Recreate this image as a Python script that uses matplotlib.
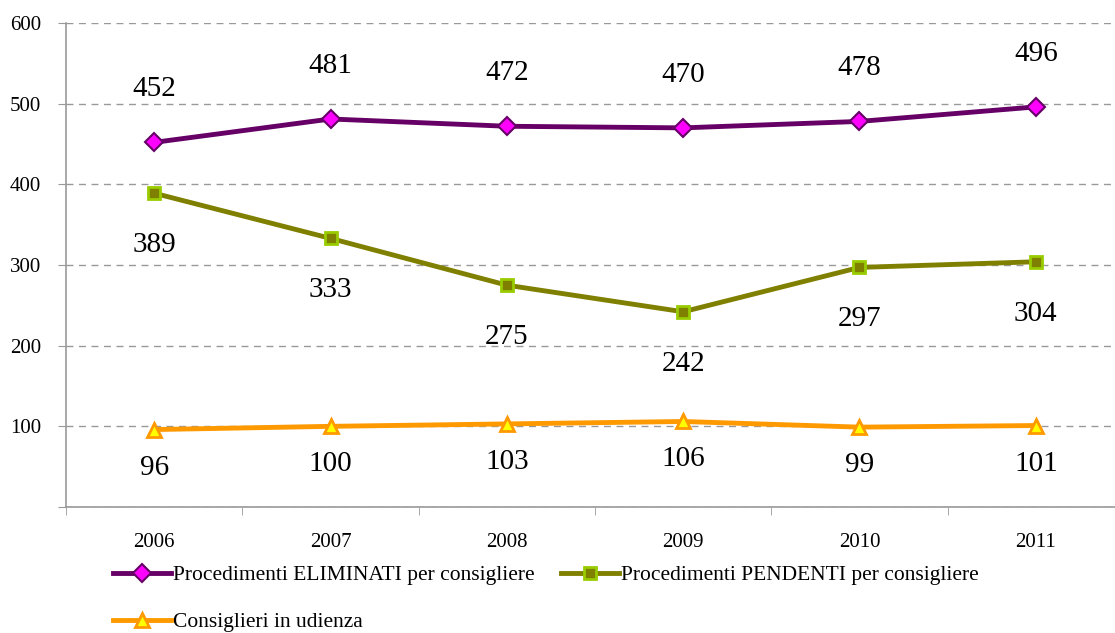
import matplotlib
matplotlib.use("Agg")
import matplotlib.pyplot as plt
from matplotlib.ticker import FixedLocator

years = ["2006", "2007", "2008", "2009", "2010", "2011"]
eliminati = [452, 481, 472, 470, 478, 496]
pendenti = [389, 333, 275, 242, 297, 304]
consiglieri = [96, 100, 103, 106, 99, 101]
names = ["Procedimenti ELIMINATI per consigliere",
         "Procedimenti PENDENTI per consigliere",
         "Consiglieri in udienza"]

plt.rcParams['font.family'] = ['Liberation Serif', 'DejaVu Serif']

W, H = 1115, 633
fig = plt.figure(figsize=(W/100, H/100), dpi=100)
ax = fig.add_axes([66/W, 1-507/H, (1124-66)/W, (507-23)/H])

x = list(range(len(years)))
l1, = ax.plot(x, eliminati, color='#660066', lw=3.5, marker='D', ms=9,
              mfc='#FF00FF', mec='#660066', mew=1.5, zorder=3)
l2, = ax.plot(x, pendenti, color='#808000', lw=3.5, marker='s', ms=9,
              mfc='#808000', mec='#99CC00', mew=2, zorder=3)
l3, = ax.plot(x, consiglieri, color='#FF9900', lw=3.5, marker='^', ms=10,
              mfc='#FFFF00', mec='#FF9900', mew=2, zorder=3)

fs_lab = 21
for xi, v in zip(x, eliminati):
    ax.annotate(str(v), (xi, v), xytext=(0, 53), textcoords='offset pixels',
                ha='center', va='center', fontsize=fs_lab)
for xi, v in zip(x, pendenti):
    ax.annotate(str(v), (xi, v), xytext=(0, -52), textcoords='offset pixels',
                ha='center', va='center', fontsize=fs_lab)
for xi, v in zip(x, consiglieri):
    ax.annotate(str(v), (xi, v), xytext=(0, -38), textcoords='offset pixels',
                ha='center', va='center', fontsize=fs_lab)

ax.set_xlim(-0.5, len(years) - 0.5)
ax.set_ylim(0, 600)
ax.set_yticks(range(0, 601, 100))
ax.set_yticklabels(["", "100", "200", "300", "400", "500", "600"], fontsize=15)
ax.set_xticks(x)
ax.set_xticklabels(years, fontsize=15)
ax.tick_params(axis='x', length=0, pad=19)
ax.xaxis.set_minor_locator(FixedLocator([i - 0.5 for i in range(len(years) + 1)]))
ax.tick_params(axis='x', which='minor', length=6, color='#999999', direction='out')
ax.tick_params(axis='y', length=6, color='#999999', pad=12)
ax.grid(axis='y', color='#999999', ls=(0, (5, 4)), lw=1)
for s in ['top', 'right']:
    ax.spines[s].set_visible(False)
for s in ['left', 'bottom']:
    ax.spines[s].set_color('#999999')
    ax.spines[s].set_linewidth(1.2)

fig.legend([l1, l3, l2], [names[0], names[2], names[1]], ncol=2, loc='upper left',
           bbox_to_anchor=(113/W, 1-565/H), frameon=False, fontsize=15.5,
           handlelength=2.7, handletextpad=0.1, labelspacing=1.25,
           columnspacing=1.2, borderpad=0, borderaxespad=0)

fig.savefig("out.png", dpi=100)
